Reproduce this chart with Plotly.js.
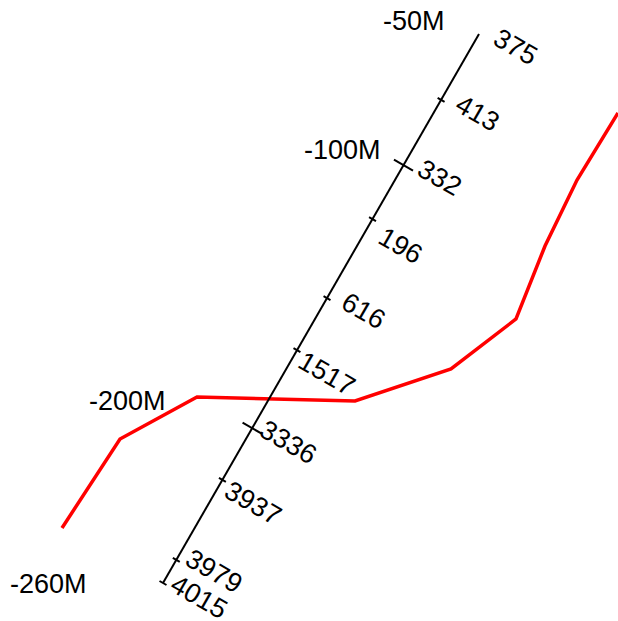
<!DOCTYPE html>
<html>
<head>
<meta charset="utf-8">
<script src="https://cdn.plot.ly/plotly-3.0.1.min.js"></script>
<style>html,body{margin:0;padding:0;background:#fff;}#chart{width:618px;height:621px;}</style>
</head>
<body>
<div id="chart"></div>
<script>
// Section drawing in a planar coordinate frame (units)
// Borehole trace: collar and end
const holeX = [479, 163];
const holeY = [34, 583];
// Positions of marks along the hole (0 = collar, 1 = end)
const markAlong = [0, 0.120, 0.239, 0.337, 0.481, 0.576, 0.718, 0.812, 0.958, 1.0];
const markLabels = ["375", "413", "332", "196", "616", "1517", "3336", "3937", "3979", "4015"];
const markMajor = [false, false, true, false, false, false, true, false, false, false];
const markShown = [false, true, true, true, true, true, true, true, true, true];
const labelShift = [-7, -6.5, -7, 9, -7, 5, -5.5, 5, -9, -6];

// Red contact line
const redX = [62, 120, 197, 355, 451, 516, 545, 577, 618];
const redY = [528, 439, 397, 401, 369, 319, 246, 180, 113];

// Elevation labels
const levelText = ["-50M", "-100M", "-200M", "-260M"];
const levelX = [414, 342, 127, 48];
const levelY = [21, 150, 401, 584];

const dx = holeX[1] - holeX[0], dy = holeY[1] - holeY[0];
const L = Math.hypot(dx, dy);
const ux = dx / L, uy = dy / L;          // along hole (downward)
let rx = -uy, ry = ux;                    // perpendicular
if (rx < 0) { rx = -rx; ry = -ry; }       // point to the right

const FONT = 'Liberation Sans, Arial, sans-serif';
const tickX = [], tickY = [];
const annotations = [];
markAlong.forEach((t, i) => {
  const cx = holeX[0] + dx * t, cy = holeY[0] + dy * t;
  if (markShown[i]) {
    const h = markMajor[i] ? 11 : 4;
    tickX.push(cx - rx * h, cx + rx * h, null);
    tickY.push(cy - ry * h, cy + ry * h, null);
  }
  const ax = cx + rx * 38 + ux * labelShift[i];
  const ay = cy + ry * 38 + uy * labelShift[i];
  annotations.push({
    x: ax, y: ay, xref: 'x', yref: 'y', text: markLabels[i], showarrow: false,
    textangle: 30, xanchor: 'center', yanchor: 'middle',
    font: {family: FONT, size: 27, color: '#000'}
  });
});
levelText.forEach((t, i) => {
  annotations.push({
    x: levelX[i], y: levelY[i], xref: 'x', yref: 'y', text: t, showarrow: false,
    xanchor: 'center', yanchor: 'middle',
    font: {family: FONT, size: 27, color: '#000'}
  });
});

const traces = [
  {x: redX, y: redY, mode: 'lines', line: {color: '#ff0000', width: 3.5}, hoverinfo: 'skip'},
  {x: holeX, y: holeY, mode: 'lines', line: {color: '#000', width: 2}, hoverinfo: 'skip'},
  {x: tickX, y: tickY, mode: 'lines', line: {color: '#000', width: 2}, hoverinfo: 'skip'}
];

const layout = {
  width: 618, height: 621,
  margin: {l: 0, r: 0, t: 0, b: 0},
  paper_bgcolor: '#fff', plot_bgcolor: '#fff',
  showlegend: false,
  xaxis: {range: [0, 618], visible: false, fixedrange: true},
  yaxis: {range: [621, 0], visible: false, fixedrange: true},
  annotations: annotations
};
Plotly.newPlot('chart', traces, layout, {displayModeBar: false, staticPlot: true});
</script>
</body>
</html>
